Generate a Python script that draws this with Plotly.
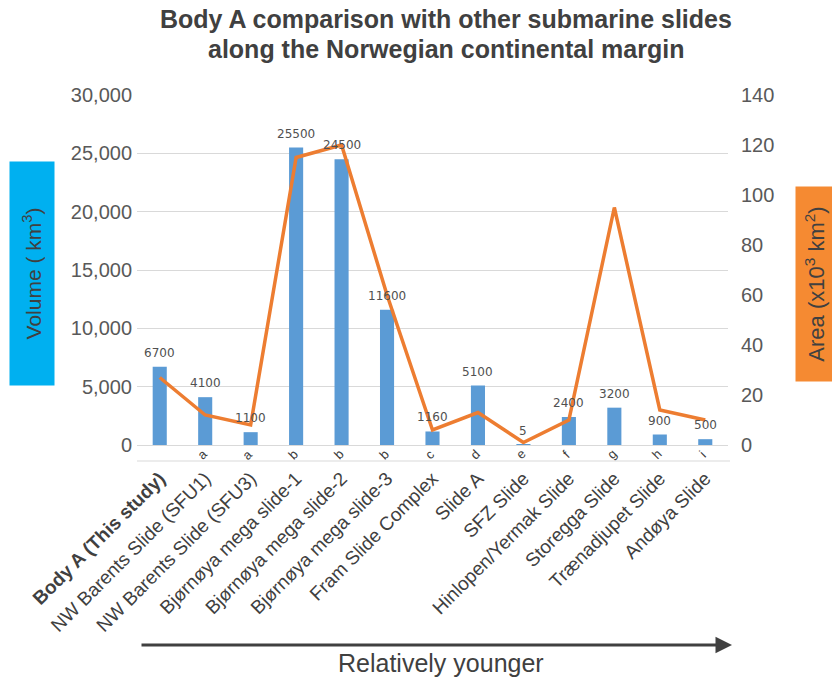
import plotly.graph_objects as go

categories = ["<b>Body A (This study)</b>", "NW Barents Slide (SFU1)", "NW Barents Slide (SFU3)",
              "Bjørnøya mega slide-1", "Bjørnøya mega slide-2", "Bjørnøya mega slide-3",
              "Fram Slide Complex", "Slide A", "SFZ Slide", "Hinlopen/Yermak Slide",
              "Storegga Slide", "Trænadjupet Slide", "Andøya Slide"]
refs = ["", "a", "a", "b", "b", "b", "c", "d", "e", "f", "g", "h", "i"]
volume = [6700, 4100, 1100, 25500, 24500, 11600, 1160, 5100, 5, 2400, 3200, 900, 500]
area = [27, 12, 8, 115, 120, 60, 6, 13, 1, 10, 95, 14, 10]
title_lines = ["Body A comparison with other submarine slides", "along the Norwegian continental margin"]

xs = list(range(len(categories)))
FONT = "Liberation Sans, Arial, sans-serif"
GRAY = "#404040"
L, R, T, B = 137, 728, 95, 445

def py(p):
    return (B - p) / (B - T)

def px(p):
    return (p - L) / (R - L)

fig = go.Figure()
fig.add_trace(go.Bar(x=xs, y=volume, marker_color="#5B9BD5", yaxis="y", hoverinfo="y"))
fig.add_trace(go.Scatter(x=xs, y=area, mode="lines", line=dict(color="#ED7D31", width=3.5),
                         yaxis="y2", cliponaxis=False))

ann = []
for i, v in enumerate(volume):
    ann.append(dict(x=i, y=v, xref="x", yref="y", text=str(v), showarrow=False, yanchor="bottom",
                    yshift=5, font=dict(size=12, color="#505050", family="DejaVu Sans")))
for i, r in enumerate(refs):
    if r:
        ann.append(dict(x=i - 0.07, y=py(454), xref="x", yref="paper", text=r, showarrow=False,
                        yanchor="middle", textangle=-45, font=dict(size=13, color=GRAY, family=FONT)))
ann.append(dict(x=px(32), y=py(274), xref="paper", yref="paper", xanchor="center", yanchor="middle",
                text="Volume ( km<sup>3</sup>)", showarrow=False, textangle=-90, bgcolor="#00B0F0",
                width=221, height=42, font=dict(size=21, color=GRAY, family=FONT)))
ann.append(dict(x=px(815), y=py(284), xref="paper", yref="paper", xanchor="center", yanchor="middle",
                text="Area (x10<sup>3</sup> km<sup>2</sup>)", showarrow=False, textangle=-90, bgcolor="#F58A32",
                width=192, height=36, font=dict(size=22, color=GRAY, family=FONT)))
ann.append(dict(x=px(732), y=py(645), xref="paper", yref="paper",
                ax=-592, ay=0, axref="pixel", ayref="pixel", text="", showarrow=True,
                arrowhead=2, arrowsize=1.1, arrowwidth=3, arrowcolor=GRAY))
ann.append(dict(x=px(441), y=py(663), xref="paper", yref="paper", yanchor="middle",
                text="Relatively younger", showarrow=False, font=dict(size=25, color=GRAY, family=FONT)))
for k, (line, yc) in enumerate(zip(title_lines, [19, 49])):
    ann.append(dict(x=px(446), y=py(yc), xref="paper", yref="paper", yanchor="middle",
                    text="<b>" + line + "</b>", showarrow=False, font=dict(size=25, color=GRAY, family=FONT)))

fig.update_layout(
    template="none",
    width=832, height=682,
    margin=dict(l=L, r=832 - R, t=T, b=682 - B, pad=0),
    paper_bgcolor="white", plot_bgcolor="white",
    showlegend=False, bargap=0.69,
    font=dict(family=FONT, color=GRAY),
    xaxis=dict(tickmode="array", tickvals=xs, ticktext=categories, tickangle=-45,
               tickfont=dict(size=19, color=GRAY), ticklabelstandoff=14, range=[-0.5, 12.5],
               showgrid=False, showline=True, linecolor="#D9D9D9", linewidth=1, ticks="",
               zeroline=False, automargin=False),
    yaxis=dict(range=[0, 30000], tickvals=[0, 5000, 10000, 15000, 20000, 25000, 30000],
               tickformat=",", showgrid=True, gridcolor="#D9D9D9", gridwidth=1, zeroline=False,
               showline=False, ticks="", tickfont=dict(size=20, color="#595959"),
               ticklabelstandoff=4, automargin=False),
    yaxis2=dict(range=[0, 140], tickvals=[0, 20, 40, 60, 80, 100, 120, 140], overlaying="y",
                side="right", showgrid=False, zeroline=False, showline=False, ticks="",
                tickfont=dict(size=20, color="#595959"), ticklabelstandoff=12, automargin=False),
    annotations=ann,
    shapes=[dict(type="line", xref="paper", yref="paper", x0=0, x1=px(730),
                 y0=py(461), y1=py(461), line=dict(color="#D9D9D9", width=1))],
)
fig.write_html("out.html", config={"displayModeBar": False},
               post_script="document.body.style.margin='0';document.body.style.overflow='hidden';")
